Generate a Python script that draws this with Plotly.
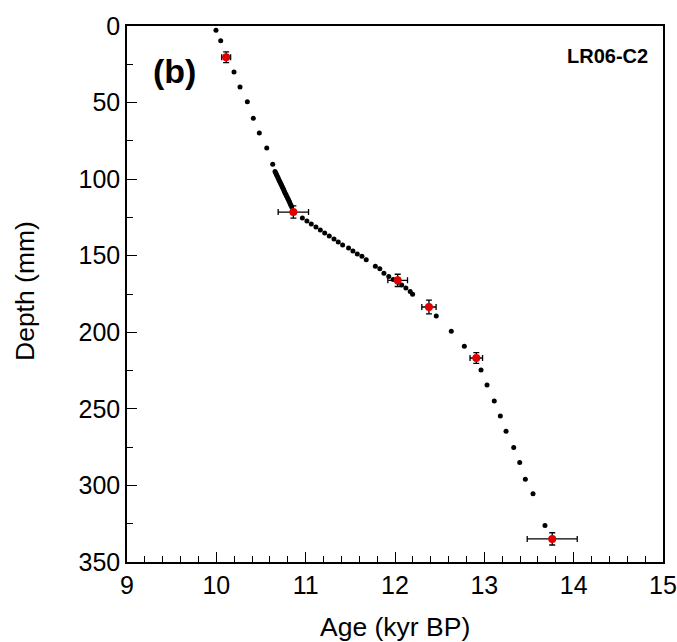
import plotly.graph_objects as go

# Age-depth model (black dots)
model_age = [9.996, 10.049, 10.12, 10.198, 10.265, 10.347, 10.414, 10.481, 10.564, 10.631,
             10.657, 10.665, 10.673, 10.681, 10.689, 10.697, 10.706, 10.714, 10.722, 10.730,
             10.738, 10.746, 10.754, 10.762, 10.770, 10.778, 10.786, 10.795, 10.803, 10.811,
             10.819, 10.827, 10.835, 10.843, 10.86,
             10.963, 11.014, 11.063, 11.115, 11.164, 11.213, 11.264, 11.317, 11.365, 11.414,
             11.48, 11.529, 11.578, 11.63, 11.678, 11.78, 11.83, 11.876, 11.93, 11.98,
             12.03, 12.075, 12.122, 12.17, 12.197, 12.462, 12.63, 12.776, 12.963, 13.03,
             13.111, 13.179, 13.243, 13.329, 13.396, 13.459, 13.545, 13.679]
model_depth = [2.8, 9.6, 20.0, 30.0, 39.8, 49.4, 60.3, 69.9, 79.7, 90.3,
               95, 96, 97, 98, 99, 100, 101, 102, 103, 104,
               105, 106, 107, 108, 109, 110, 111, 112, 113, 114,
               115, 116, 117, 118, 121,
               125.4, 127.4, 129.3, 131.3, 133.2, 135.2, 137.2, 139.1, 141.1, 143.0,
               145.0, 147.0, 148.9, 150.4, 152.6, 156.8, 158.5, 161.5, 163.5, 165.5,
               167.3, 169.2, 171.1, 173.3, 175.2, 189.4, 199.4, 209.2, 224.7, 234.5,
               244.9, 254.7, 264.7, 275.2, 285.0, 295.9, 305.5, 326.1]

# Dated samples (red points with errors)
date_age = [10.11, 10.862, 12.03, 12.38, 12.91, 13.76]
date_depth = [20.4, 121.5, 166.1, 183.5, 216.8, 334.9]
date_age_err = [0.05, 0.17, 0.11, 0.08, 0.07, 0.28]
date_depth_err = [3.5, 4, 4, 4.5, 3.5, 4]

x_ticks = [9, 10, 11, 12, 13, 14, 15]
y_ticks = [0, 50, 100, 150, 200, 250, 300, 350]

FONT = "Liberation Sans, Arial, Helvetica, sans-serif"

W, H = 677, 642
L, T = 127, 26
R = W - 663
B = H - 562
PW, PH = W - L - R, H - T - B


def px_x(px):
    return (px - L) / PW


def px_y(py):
    return 1 - (py - T) / PH


fig = go.Figure()
fig.add_trace(go.Scatter(
    x=model_age, y=model_depth, mode="markers",
    marker=dict(color="black", size=5, line=dict(width=0)),
    showlegend=False, hoverinfo="x+y"))
fig.add_trace(go.Scatter(
    x=date_age, y=date_depth, mode="markers",
    marker=dict(color="#e00000", size=8, line=dict(width=0)),
    error_x=dict(type="data", array=date_age_err, color="black", thickness=1.3, width=3),
    error_y=dict(type="data", array=date_depth_err, color="black", thickness=1.3, width=3),
    showlegend=False, hoverinfo="x+y"))

axis_common = dict(
    ticks="inside", ticklen=10, tickwidth=1, tickcolor="black",
    showline=True, linecolor="black", linewidth=1.5, mirror=True,
    showgrid=False, zeroline=False, tickfont=dict(size=25), automargin=False,
)

fig.update_layout(
    width=W, height=H,
    margin=dict(l=L, r=R, t=T, b=B),
    paper_bgcolor="white", plot_bgcolor="white",
    font=dict(family=FONT, color="black", size=25),
    xaxis=dict(range=[9, 15], tickvals=x_ticks, ticktext=[str(v) for v in x_ticks],
               minor=dict(dtick=0.2, ticks="inside", ticklen=6, tickwidth=1, tickcolor="black", showgrid=False),
               **axis_common),
    yaxis=dict(range=[350, 0], tickvals=y_ticks, ticktext=[str(v) for v in y_ticks],
               minor=dict(dtick=25, ticks="inside", ticklen=6, tickwidth=1, tickcolor="black", showgrid=False),
               **axis_common),
    annotations=[
        dict(text="<b>(b)</b>", x=px_x(174), y=px_y(71), xref="paper", yref="paper", showarrow=False,
             font=dict(size=34), xanchor="center", yanchor="middle"),
        dict(text="<b>LR06-C2</b>", x=px_x(650), y=px_y(56), xref="paper", yref="paper", showarrow=False,
             font=dict(size=20), xanchor="right", yanchor="middle"),
        dict(text="Age (kyr BP)", x=px_x(395), y=px_y(627), xref="paper", yref="paper", showarrow=False,
             font=dict(size=26.5), xanchor="center", yanchor="middle"),
        dict(text="Depth (mm)", x=px_x(25), y=px_y(291), xref="paper", yref="paper", showarrow=False,
             font=dict(size=26.5), xanchor="center", yanchor="middle", textangle=-90),
    ],
)

# remove the default 8px page margin so the figure fills the window exactly
fig.write_html(
    "out.html",
    config={"displayModeBar": False},
    post_script="document.body.style.margin='0px';document.documentElement.style.overflow='hidden';",
)
